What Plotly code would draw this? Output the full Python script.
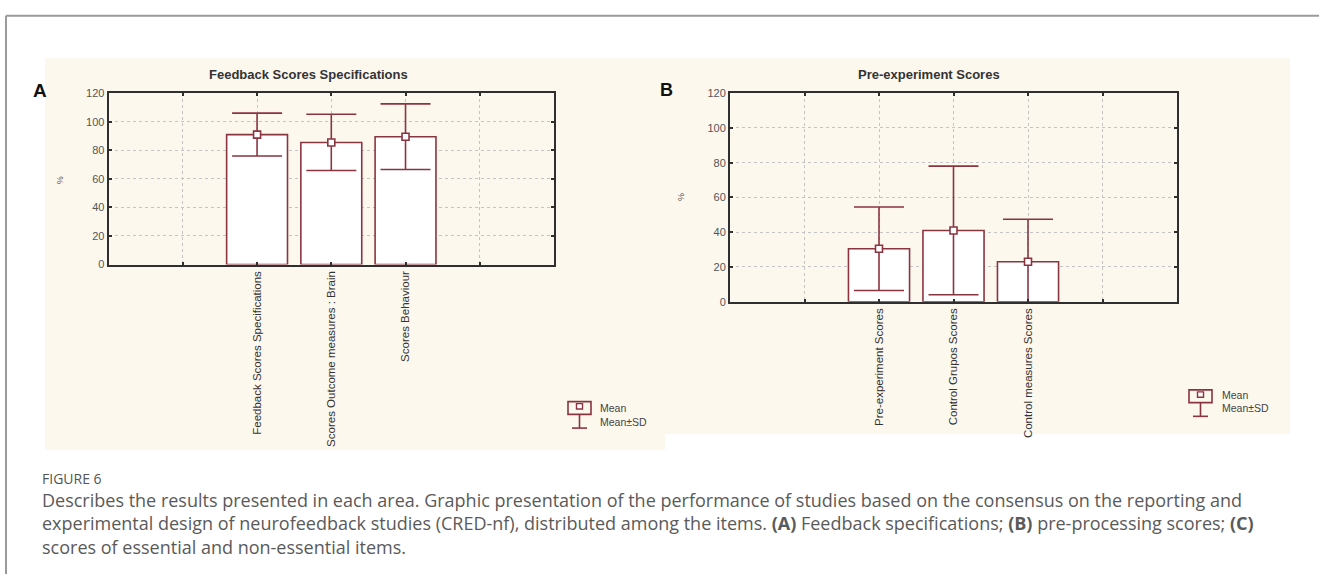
import plotly.graph_objects as go

W, H = 1319, 580

# Panel A: feedback score specifications (mean and SD, %)
cats_a = ["Feedback Scores Specifications", "Scores Outcome measures : Brain", "Scores Behaviour"]
mean_a = [91, 85.5, 89.5]
sd_a = [15, 19.7, 23]

# Panel B: pre-experiment scores (mean and SD, %)
cats_b = ["Pre-experiment Scores", "Control Grupos Scores", "Control measures Scores"]
mean_b = [30.5, 41, 23]
sd_b = [24, 37, 24.5]

pos = [2, 3, 4]
grid_pos = [1, 2, 3, 4, 5]
y_ticks = [0, 20, 40, 60, 80, 100, 120]

MAROON = "#8a3440"
FRAME = "#2f2f2f"
CREAM = "#fcf8ee"


def px(x):
    return x / W


def py(y):
    return 1 - y / H


fig = go.Figure()

for mean, sd, xa, ya in [(mean_a, sd_a, "x", "y"), (mean_b, sd_b, "x2", "y2")]:
    fig.add_trace(go.Bar(
        x=pos, y=mean, width=0.82, xaxis=xa, yaxis=ya,
        marker=dict(color="white", line=dict(color=MAROON, width=1.6)),
        error_y=dict(type="data", array=sd, color=MAROON, thickness=1.6, width=25),
        showlegend=False, hoverinfo="skip",
    ))
    fig.add_trace(go.Scatter(
        x=pos, y=mean, mode="markers", xaxis=xa, yaxis=ya,
        marker=dict(symbol="square", size=7, color="white", line=dict(color=MAROON, width=1.6)),
        showlegend=False, hoverinfo="skip",
    ))

axis_common = dict(
    showline=True, mirror="ticks", linecolor=FRAME, linewidth=2,
    ticks="inside", ticklen=3, tickcolor=FRAME, tickwidth=1.5,
    showgrid=True, gridcolor="#c4c4c4", griddash="dot", gridwidth=1,
    zeroline=False,
)

xfont = dict(family="Liberation Sans Narrow, Arial Narrow, Liberation Sans, sans-serif", size=11.5, color="#333333")
yfont = dict(family="Liberation Sans, Arial, sans-serif", size=11, color="#555555")


def xaxis_for(cats, left, right):
    return dict(
        axis_common, domain=[px(left), px(right)], range=[0, 6],
        tickmode="array", tickvals=grid_pos, ticktext=[""] + cats + [""],
        tickangle=-90, tickfont=xfont,
    )


def yaxis_for(top, bottom):
    return dict(
        axis_common, domain=[py(bottom), py(top)], range=[0, 120],
        tickmode="array", tickvals=y_ticks, tickfont=yfont,
    )


fig.update_layout(
    width=W, height=H,
    margin=dict(l=0, r=0, t=0, b=0),
    paper_bgcolor="white", plot_bgcolor="white",
    xaxis=dict(xaxis_for(cats_a, 108.6, 554), anchor="y"),
    yaxis=dict(yaxis_for(89, 264), anchor="x"),
    xaxis2=dict(xaxis_for(cats_b, 730, 1177), anchor="y2"),
    yaxis2=dict(yaxis_for(89, 302), anchor="x2"),
)

shapes = []
# outer figure frame
shapes.append(dict(type="line", xref="paper", yref="paper", x0=px(6), x1=px(1319), y0=py(10), y1=py(10),
                   line=dict(color="#9a9a9a", width=2), layer="below"))
shapes.append(dict(type="line", xref="paper", yref="paper", x0=px(6), x1=px(6), y0=py(10), y1=py(580),
                   line=dict(color="#9a9a9a", width=2), layer="below"))
# cream chart backgrounds
shapes.append(dict(type="rect", xref="paper", yref="paper", x0=px(45), x1=px(665), y0=py(453), y1=py(53),
                   fillcolor=CREAM, line=dict(width=0), layer="below"))
shapes.append(dict(type="rect", xref="paper", yref="paper", x0=px(650), x1=px(1290), y0=py(437), y1=py(53),
                   fillcolor=CREAM, line=dict(width=0), layer="below"))


def legend_icon(x0, y0):
    # bar box, mean square, SD whisker
    out = []
    out.append(dict(type="rect", xref="paper", yref="paper", x0=px(x0), x1=px(x0 + 23), y0=py(y0 + 13), y1=py(y0),
                    fillcolor="rgba(0,0,0,0)", line=dict(color=MAROON, width=1.6)))
    out.append(dict(type="rect", xref="paper", yref="paper", x0=px(x0 + 8.5), x1=px(x0 + 14.5), y0=py(y0 + 7.5), y1=py(y0 + 2),
                    fillcolor="white", line=dict(color=MAROON, width=1.4)))
    out.append(dict(type="line", xref="paper", yref="paper", x0=px(x0 + 11.5), x1=px(x0 + 11.5), y0=py(y0 + 13), y1=py(y0 + 27),
                    line=dict(color=MAROON, width=1.6)))
    out.append(dict(type="line", xref="paper", yref="paper", x0=px(x0 + 4), x1=px(x0 + 19), y0=py(y0 + 27), y1=py(y0 + 27),
                    line=dict(color=MAROON, width=1.6)))
    return out


shapes += legend_icon(568, 404)
shapes += legend_icon(1189, 392)
fig.update_layout(shapes=shapes)

ann = []


def text(x, y, s, size, color="#333333", family="Liberation Sans, Arial, sans-serif", xanchor="center",
         angle=0):
    ann.append(dict(xref="paper", yref="paper", x=px(x), y=py(y), text=s, showarrow=False,
                    xanchor=xanchor, yanchor="middle", textangle=angle,
                    font=dict(size=size, color=color, family=family)))


text(308, 70, "<b>Feedback Scores Specifications</b>", 13)
text(929, 70, "<b>Pre-experiment Scores</b>", 13)
text(40, 86, "<b>A</b>", 19, color="#111111")
text(667, 86, "<b>B</b>", 18, color="#111111")
text(60, 178, "%", 9, color="#555555", angle=-90)
text(681, 195, "%", 9, color="#555555", angle=-90)

lfont = "Liberation Sans, Arial, sans-serif"
text(598, 411, "Mean", 10.5, color="#444444", family=lfont, xanchor="left")
text(598, 425, "Mean±SD", 10.5, color="#444444", family=lfont, xanchor="left")
text(1220, 397, "Mean", 10.5, color="#444444", family=lfont, xanchor="left")
text(1220, 411, "Mean±SD", 10.5, color="#444444", family=lfont, xanchor="left")

cap_font = "Open Sans, Lato, sans-serif"
text(40, 482, "FIGURE 6", 14, color="#555555", family=cap_font, xanchor="left")
caption = [
    "Describes the results presented in each area. Graphic presentation of the performance of studies based on the consensus on the reporting and",
    "experimental design of neurofeedback studies (CRED-nf), distributed among the items. <b>(A)</b> Feedback specifications; <b>(B)</b> pre-processing scores; <b>(C)</b>",
    "scores of essential and non-essential items.",
]
for i, line in enumerate(caption):
    text(40, 504 + 24 * i, line, 18, color="#5a5a5a", family=cap_font, xanchor="left")

fig.update_layout(annotations=ann)

fig.write_html("out.html")
